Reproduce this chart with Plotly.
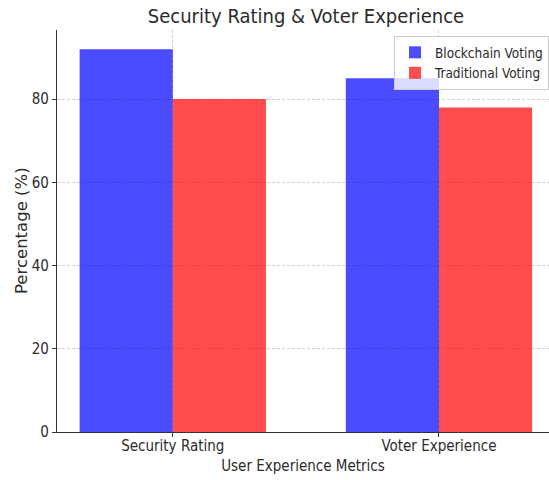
import plotly.graph_objects as go

categories = ["Security Rating", "Voter Experience"]
blockchain = [92, 85]
traditional = [80, 78]
series_names = ["Blockchain Voting", "Traditional Voting"]
y_ticks = [0, 20, 40, 60, 80]

FONT = "DejaVu Sans Condensed, Liberation Sans Narrow, DejaVu Sans, sans-serif"
TXT = "#2b2b2b"
xpos = list(range(len(categories)))

fig = go.Figure()
fig.add_trace(go.Bar(x=xpos, y=blockchain, name=series_names[0], width=0.35, offset=-0.35,
                     marker=dict(color="rgba(0,0,255,0.7)", line=dict(width=0))))
fig.add_trace(go.Bar(x=xpos, y=traditional, name=series_names[1], width=0.35, offset=0,
                     marker=dict(color="rgba(255,0,0,0.7)", line=dict(width=0))))

fig.update_layout(
    width=549, height=480,
    margin=dict(l=57, r=0, t=30, b=48, autoexpand=False),
    plot_bgcolor="white", paper_bgcolor="white",
    font=dict(family=FONT, color=TXT, size=15),
    title=dict(text="Security Rating & Voter Experience", x=(57 + 555) / 2 / 549, xanchor="center",
               y=0.966, yanchor="middle", font=dict(size=20, family=FONT, color=TXT)),
    showlegend=True,
    legend=dict(x=1.0, xanchor="right", y=0.985, yanchor="top",
                bgcolor="rgba(255,255,255,0.8)", bordercolor="#cccccc", borderwidth=1,
                font=dict(size=13.5, family=FONT, color=TXT), itemwidth=30,
                tracegroupgap=0),
    xaxis=dict(range=[-0.435, 1.4135], tickvals=xpos, ticktext=categories,
               showline=True, linecolor="#333333", linewidth=1.2, ticks="outside", ticklen=4,
               tickcolor="#333333", showgrid=True, gridcolor="#d0d0d0", griddash="3px,2px", gridwidth=1,
               zeroline=False, tickfont=dict(size=15), ticklabelstandoff=-4,
               title=dict(text="User Experience Metrics", font=dict(size=15), standoff=6)),
    yaxis=dict(range=[0, 96.6], tickvals=y_ticks, showline=True, linecolor="#333333", linewidth=1.2,
               ticks="outside", ticklen=4, tickcolor="#333333", showgrid=True, gridcolor="#d0d0d0",
               griddash="3px,2px", gridwidth=1, zeroline=False, tickfont=dict(size=15)),
    annotations=[dict(text="Percentage (%)", textangle=-90, xref="paper", yref="paper",
                      x=(21 - 57) / 492, y=0.5, xanchor="center", yanchor="middle",
                      showarrow=False, font=dict(size=16.5, family="DejaVu Sans", color=TXT))],
)

fig.write_html("out.html")
